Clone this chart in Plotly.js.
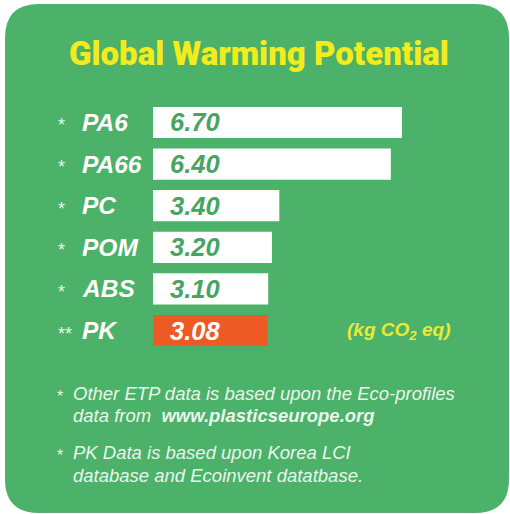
<!DOCTYPE html>
<html>
<head>
<meta charset="utf-8">
<script src="https://cdn.plot.ly/plotly-3.0.1.min.js"></script>
<style>html,body{margin:0;padding:0;background:#fff;}#chart{width:510px;height:514px;}</style>
</head>
<body>
<div id="chart"></div>
<script>
// ---- data ----
const categories = ['PA6', 'PA66', 'PC', 'POM', 'ABS', 'PK'];
const values = [6.70, 6.40, 3.40, 3.20, 3.10, 3.08];
const valueLabels = ['6.70', '6.40', '3.40', '3.20', '3.10', '3.08'];
const marks = ['*', '*', '*', '*', '*', '**'];
const titleText = 'Global Warming Potential';
const unitText = '(kg CO<sub>2</sub> eq)';
const notes = [
  ['*', 'Other ETP data is based upon the Eco-profiles', 'data from&nbsp; <b>www.plasticseurope.org</b>'],
  ['*', 'PK Data is based upon Korea LCI', 'database and Ecoinvent datatbase.']
];

// ---- layout helpers ----
const W = 510, H = 514;
const px = x => x / W;
const py = y => 1 - y / H;

const GREEN = '#4cb169';
const YELLOW = '#f3ec1d';
const ORANGE = '#ee5a23';
const barColors = categories.map(c => c === 'PK' ? ORANGE : '#ffffff');
const textColors = categories.map(c => c === 'PK' ? '#ffffff' : '#47a462');

function roundRect(x0, y0, x1, y1, r) {
  const P = (x, y) => px(x) + ',' + py(y);
  return 'M' + P(x0 + r, y0) + ' L' + P(x1 - r, y0) + ' Q' + P(x1, y0) + ' ' + P(x1, y0 + r) +
    ' L' + P(x1, y1 - r) + ' Q' + P(x1, y1) + ' ' + P(x1 - r, y1) +
    ' L' + P(x0 + r, y1) + ' Q' + P(x0, y1) + ' ' + P(x0, y1 - r) +
    ' L' + P(x0, y0 + r) + ' Q' + P(x0, y0) + ' ' + P(x0 + r, y0) + ' Z';
}

const trace = {
  type: 'bar',
  orientation: 'h',
  y: categories,
  x: values,
  marker: { color: barColors, line: { width: 0 } },
  hoverinfo: 'none'
};

const annotations = [];
annotations.push({
  xref: 'paper', yref: 'paper', x: px(259), y: py(54), xanchor: 'center', yanchor: 'middle',
  text: titleText, showarrow: false,
  font: { family: 'Roboto, "DejaVu Sans Condensed", sans-serif', size: 33, weight: 900, color: YELLOW }
});
categories.forEach((c, i) => {
  annotations.push({
    xref: 'paper', yref: 'y', x: px(80), y: c, xanchor: 'left', yanchor: 'middle',
    text: '<b><i>' + c + '</i></b>', showarrow: false,
    font: { family: '"Liberation Sans", Arial, sans-serif', size: 24.5, color: '#ffffff' }
  });
  annotations.push({
    xref: 'paper', yref: 'y', x: px(56), y: c, xanchor: 'left', yanchor: 'middle', yshift: -3,
    text: marks[i], showarrow: false,
    font: { family: '"Liberation Sans", Arial, sans-serif', size: 18, color: '#e8f4ea' }
  });
  annotations.push({
    xref: 'x', yref: 'y', x: 0, y: c, xanchor: 'left', yanchor: 'middle', xshift: 15,
    text: '<b><i>' + valueLabels[i] + '</i></b>', showarrow: false,
    font: { family: '"Liberation Sans", Arial, sans-serif', size: 25.5, color: textColors[i] }
  });
});
annotations.push({
  xref: 'paper', yref: 'y', x: px(345), y: 'PK', xanchor: 'left', yanchor: 'middle',
  text: '<b><i>' + unitText + '</i></b>', showarrow: false,
  font: { family: '"Liberation Sans", Arial, sans-serif', size: 19, color: '#ece933' }
});
const noteY = [[393, 415], [452, 475]];
notes.forEach((n, k) => {
  annotations.push({
    xref: 'paper', yref: 'paper', x: px(65), y: py(noteY[k][0] + 3), xanchor: 'right', yanchor: 'middle',
    text: n[0], showarrow: false,
    font: { family: '"Liberation Sans", Arial, sans-serif', size: 16, color: '#e6f3e8' }
  });
  [n[1], n[2]].forEach((t, j) => {
    annotations.push({
      xref: 'paper', yref: 'paper', x: px(71), y: py(noteY[k][j]), xanchor: 'left', yanchor: 'middle',
      text: '<i>' + t + '</i>', showarrow: false,
      font: { family: '"Liberation Sans", Arial, sans-serif', size: 18.5, color: '#eaf5ec' }
    });
  });
});

const layout = {
  width: W, height: H,
  margin: { l: 0, r: 0, t: 0, b: 0, pad: 0 },
  paper_bgcolor: '#ffffff',
  plot_bgcolor: 'rgba(0,0,0,0)',
  showlegend: false,
  bargap: 0.25,
  xaxis: {
    domain: [px(153), px(153 + 9 * 37.16)], range: [0, 9],
    showgrid: false, zeroline: false, showticklabels: false, showline: false, ticks: '', fixedrange: true
  },
  yaxis: {
    domain: [py(351.3), py(101.7)], autorange: 'reversed', type: 'category',
    showgrid: false, zeroline: false, showticklabels: false, showline: false, ticks: '', fixedrange: true
  },
  shapes: [{
    type: 'path', xref: 'paper', yref: 'paper', layer: 'below',
    path: roundRect(5, 4, 509, 513, 34),
    fillcolor: GREEN, line: { width: 0 }
  }],
  annotations: annotations
};

Plotly.newPlot('chart', [trace], layout, { displayModeBar: false, staticPlot: true });
</script>
</body>
</html>
